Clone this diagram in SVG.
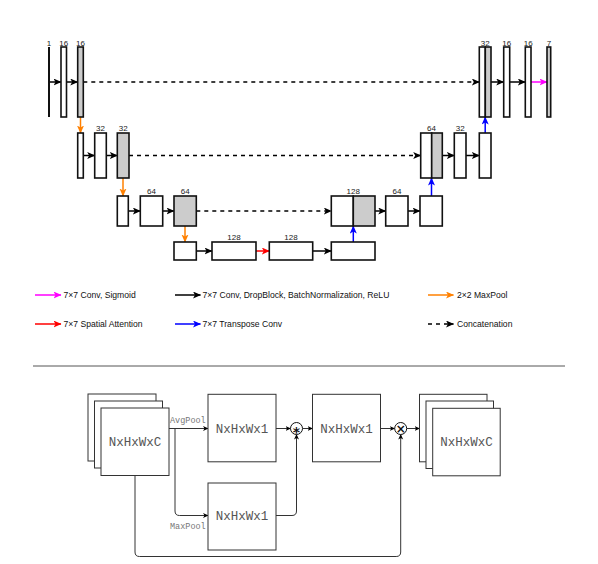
<svg xmlns="http://www.w3.org/2000/svg" width="598" height="564" viewBox="0 0 598 564">
<style>
.bx{fill:#fff;stroke:#111;stroke-width:1.6}
.gr{fill:#ccc;stroke:#111;stroke-width:1.6}
.lb{font-family:"Liberation Sans",Arial,sans-serif;font-size:8px;fill:#222;text-anchor:middle}
.lg{font-family:"Liberation Sans",Arial,sans-serif;font-size:8.6px;fill:#111}
.c{fill:none;stroke-width:1.5}
.k{stroke:#000;marker-end:url(#mk)}
.o{stroke:#FF8000;marker-end:url(#mo)}
.b{stroke:#0000FF;marker-end:url(#mb)}
.r{stroke:#FF0000;marker-end:url(#mr)}
.m{stroke:#FF00FF;marker-end:url(#mm)}
.d{stroke:#000;stroke-dasharray:4 4;marker-end:url(#mk)}
.sb{fill:#fff;stroke:#333;stroke-width:1}
.mono{font-family:"Liberation Mono","Courier New",monospace;fill:#555}
.big{font-size:12.5px;text-anchor:middle}
.sm{font-size:8.5px;fill:#777}
.s{fill:none;stroke:#333;stroke-width:1;marker-end:url(#ms)}
.op{fill:#fff;stroke:#111;stroke-width:1}
</style>
<defs>
<marker id="mk" markerUnits="userSpaceOnUse" markerWidth="9" markerHeight="8" refX="7.5" refY="3.5" orient="auto"><path d="M0,0 L8,3.5 L0,7 L2,3.5 Z" fill="#000"/></marker>
<marker id="mo" markerUnits="userSpaceOnUse" markerWidth="9" markerHeight="8" refX="7.5" refY="3.5" orient="auto"><path d="M0,0 L8,3.5 L0,7 L2,3.5 Z" fill="#FF8000"/></marker>
<marker id="mb" markerUnits="userSpaceOnUse" markerWidth="9" markerHeight="8" refX="7.5" refY="3.5" orient="auto"><path d="M0,0 L8,3.5 L0,7 L2,3.5 Z" fill="#0000FF"/></marker>
<marker id="mr" markerUnits="userSpaceOnUse" markerWidth="9" markerHeight="8" refX="7.5" refY="3.5" orient="auto"><path d="M0,0 L8,3.5 L0,7 L2,3.5 Z" fill="#FF0000"/></marker>
<marker id="mm" markerUnits="userSpaceOnUse" markerWidth="9" markerHeight="8" refX="7.5" refY="3.5" orient="auto"><path d="M0,0 L8,3.5 L0,7 L2,3.5 Z" fill="#FF00FF"/></marker>
<marker id="ms" markerUnits="userSpaceOnUse" markerWidth="6" markerHeight="6" refX="5" refY="2.5" orient="auto"><path d="M0,0 L5.5,2.5 L0,5 L1.5,2.5 Z" fill="#000"/></marker>
</defs>

<g id="connectors">
<!-- row 1 -->
<line class="c k" x1="49" y1="82" x2="61" y2="82"/>
<line class="c k" x1="66.5" y1="82" x2="77.7" y2="82"/>
<line class="c d" x1="83.3" y1="82" x2="479.3" y2="82"/>
<line class="c k" x1="491" y1="82" x2="503.7" y2="82"/>
<line class="c k" x1="509.7" y1="82" x2="525.3" y2="82"/>
<line class="c m" x1="531" y1="82" x2="547" y2="82"/>
<line class="c o" x1="80.5" y1="117" x2="80.5" y2="133"/>
<!-- row 2 -->
<line class="c k" x1="83.3" y1="155.5" x2="94.7" y2="155.5"/>
<line class="c k" x1="106.3" y1="155.5" x2="117.3" y2="155.5"/>
<line class="c d" x1="129" y1="155.5" x2="420.7" y2="155.5"/>
<line class="c k" x1="442.3" y1="155.5" x2="454.3" y2="155.5"/>
<line class="c k" x1="466" y1="155.5" x2="479.3" y2="155.5"/>
<line class="c b" x1="485.2" y1="133" x2="485.2" y2="117"/>
<line class="c o" x1="123" y1="178" x2="123" y2="196"/>
<!-- row 3 -->
<line class="c k" x1="128.3" y1="211" x2="140.3" y2="211"/>
<line class="c k" x1="162.7" y1="211" x2="174" y2="211"/>
<line class="c d" x1="196.3" y1="211" x2="331.3" y2="211"/>
<line class="c k" x1="375" y1="211" x2="385.7" y2="211"/>
<line class="c k" x1="408" y1="211" x2="420" y2="211"/>
<line class="c b" x1="431.5" y1="196" x2="431.5" y2="178"/>
<line class="c o" x1="185" y1="226" x2="185" y2="242"/>
<!-- row 4 -->
<line class="c k" x1="196.3" y1="251" x2="212" y2="251"/>
<line class="c r" x1="256" y1="251" x2="269.3" y2="251"/>
<line class="c k" x1="312.7" y1="251" x2="331.3" y2="251"/>
<line class="c b" x1="353.3" y1="242" x2="353.3" y2="226"/>
<!-- legend -->
<line class="c m" x1="35" y1="295" x2="61" y2="295"/>
<line class="c k" x1="175" y1="295" x2="200.5" y2="295"/>
<line class="c o" x1="428" y1="295" x2="453.5" y2="295"/>
<line class="c r" x1="35" y1="324" x2="61" y2="324"/>
<line class="c b" x1="175" y1="324" x2="200.5" y2="324"/>
<line class="c d" x1="428" y1="324" x2="453.5" y2="324"/>
<!-- bottom attention block -->
<line class="s" x1="169" y1="428.5" x2="208" y2="428.5"/>
<path class="s" d="M175,428.5 V511 Q175,515.5 179.5,515.5 H208"/>
<line class="s" x1="276" y1="428.5" x2="290.5" y2="428.5"/>
<path class="s" d="M276,515.5 H292 Q296.5,515.5 296.5,511 V434.5"/>
<line class="s" x1="302.5" y1="428.5" x2="312.5" y2="428.5"/>
<line class="s" x1="380.5" y1="428.5" x2="394.7" y2="428.5"/>
<line class="s" x1="406.7" y1="428.5" x2="419.5" y2="428.5"/>
<path class="s" d="M135,475.5 V552 Q135,556.5 139.5,556.5 H396.2 Q400.7,556.5 400.7,552 V434.5"/>
</g>

<line id="separator" x1="33" y1="366" x2="565" y2="366" stroke="#555" stroke-width="1"/>

<!-- top row nodes -->
<g id="n-in"><line x1="49" y1="47" x2="49" y2="117" stroke="#111" stroke-width="2"/><text class="lb" x="49" y="45.5">1</text></g>
<g id="n-e1a"><rect class="bx" x="61" y="47" width="5.5" height="70"/><text class="lb" x="63.7" y="45.5">16</text></g>
<g id="n-e1b"><rect class="gr" x="77.7" y="47" width="5.6" height="70"/><text class="lb" x="80.5" y="45.5">16</text></g>
<g id="n-d1cat"><rect class="bx" x="479.3" y="47" width="6" height="70"/><rect class="gr" x="485.3" y="47" width="5.7" height="70"/><text class="lb" x="485.2" y="45.5">32</text></g>
<g id="n-d1a"><rect class="bx" x="503.7" y="47" width="6" height="70"/><text class="lb" x="506.7" y="45.5">16</text></g>
<g id="n-d1b"><rect class="bx" x="525.3" y="47" width="5.7" height="70"/><text class="lb" x="528.2" y="45.5">16</text></g>
<g id="n-out"><rect class="gr" x="547" y="47" width="3.7" height="70"/><text class="lb" x="549" y="45.5">7</text></g>

<!-- row 2 -->
<g id="n-e2p"><rect class="bx" x="77.7" y="133" width="5.6" height="45"/></g>
<g id="n-e2a"><rect class="bx" x="94.7" y="133" width="11.6" height="45"/><text class="lb" x="100.5" y="130.7">32</text></g>
<g id="n-e2b"><rect class="gr" x="117.3" y="133" width="11.7" height="45"/><text class="lb" x="123.2" y="130.7">32</text></g>
<g id="n-d2cat"><rect class="bx" x="420.7" y="133" width="11" height="45"/><rect class="gr" x="431.7" y="133" width="10.6" height="45"/><text class="lb" x="431.5" y="130.7">64</text></g>
<g id="n-d2a"><rect class="bx" x="454.3" y="133" width="11.7" height="45"/><text class="lb" x="460.2" y="130.7">32</text></g>
<g id="n-d2up"><rect class="bx" x="479.3" y="133" width="11.7" height="45"/></g>

<!-- row 3 -->
<g id="n-e3p"><rect class="bx" x="117.3" y="196" width="11" height="30"/></g>
<g id="n-e3a"><rect class="bx" x="140.3" y="196" width="22.4" height="30"/><text class="lb" x="151.5" y="193.5">64</text></g>
<g id="n-e3b"><rect class="gr" x="174" y="196" width="22.3" height="30"/><text class="lb" x="185.2" y="193.5">64</text></g>
<g id="n-d3cat"><rect class="bx" x="331.3" y="196" width="22" height="30"/><rect class="gr" x="353.3" y="196" width="21.7" height="30"/><text class="lb" x="353.2" y="193.5">128</text></g>
<g id="n-d3a"><rect class="bx" x="385.7" y="196" width="22.3" height="30"/><text class="lb" x="396.9" y="193.5">64</text></g>
<g id="n-d3up"><rect class="bx" x="420" y="196" width="22.3" height="30"/></g>

<!-- row 4 -->
<g id="n-bp"><rect class="bx" x="174" y="242" width="22.3" height="18"/></g>
<g id="n-b1"><rect class="bx" x="212" y="242" width="44" height="18"/><text class="lb" x="234" y="240">128</text></g>
<g id="n-b2"><rect class="bx" x="269.3" y="242" width="43.4" height="18"/><text class="lb" x="291" y="240">128</text></g>
<g id="n-bup"><rect class="bx" x="331.3" y="242" width="43.7" height="18"/></g>

<!-- legend -->
<g id="legend">
<text class="lg" x="63.5" y="298">7×7 Conv, Sigmoid</text>
<text class="lg" x="202.5" y="298">7×7 Conv, DropBlock, BatchNormalization, ReLU</text>
<text class="lg" x="457" y="298">2×2 MaxPool</text>
<text class="lg" x="63.5" y="327">7×7 Spatial Attention</text>
<text class="lg" x="202.5" y="327">7×7 Transpose Conv</text>
<text class="lg" x="457" y="327">Concatenation</text>
</g>

<!-- bottom: spatial attention block -->
<g id="n-input">
<rect class="sb" x="88" y="394" width="68" height="67"/>
<rect class="sb" x="94.5" y="401" width="68" height="67"/>
<rect class="sb" x="101" y="408" width="68" height="67.5"/>
<text class="mono big" x="135" y="445.5">NxHxWxC</text>
</g>
<g id="n-avglabel"><text class="mono sm" x="170" y="423">AvgPool</text></g>
<g id="n-maxlabel"><text class="mono sm" x="170" y="529">MaxPool</text></g>
<g id="n-avg"><rect class="sb" x="208" y="394.3" width="68" height="67.5"/><text class="mono big" x="242" y="432.5">NxHxWx1</text></g>
<g id="n-max"><rect class="sb" x="208" y="483" width="68" height="67"/><text class="mono big" x="242" y="520">NxHxWx1</text></g>
<g id="n-conv"><circle class="op" cx="296.5" cy="428.5" r="6"/><text x="296.5" y="436.8" font-family="DejaVu Sans,sans-serif" font-size="14" font-weight="bold" text-anchor="middle" fill="#111">*</text></g>
<g id="n-att"><rect class="sb" x="312.5" y="394.3" width="68" height="67.5"/><text class="mono big" x="346.5" y="432.5">NxHxWx1</text></g>
<g id="n-mul"><circle class="op" cx="400.7" cy="428.5" r="6"/><text x="400.7" y="432.6" font-family="DejaVu Sans,sans-serif" font-size="12" font-weight="bold" text-anchor="middle" fill="#111">×</text></g>
<g id="n-output">
<rect class="sb" x="419.5" y="394.3" width="67.5" height="67.5"/>
<rect class="sb" x="426" y="401" width="67.5" height="67.5"/>
<rect class="sb" x="432.7" y="408.3" width="67.5" height="67.5"/>
<text class="mono big" x="466.5" y="446">NxHxWxC</text>
</g>
</svg>
